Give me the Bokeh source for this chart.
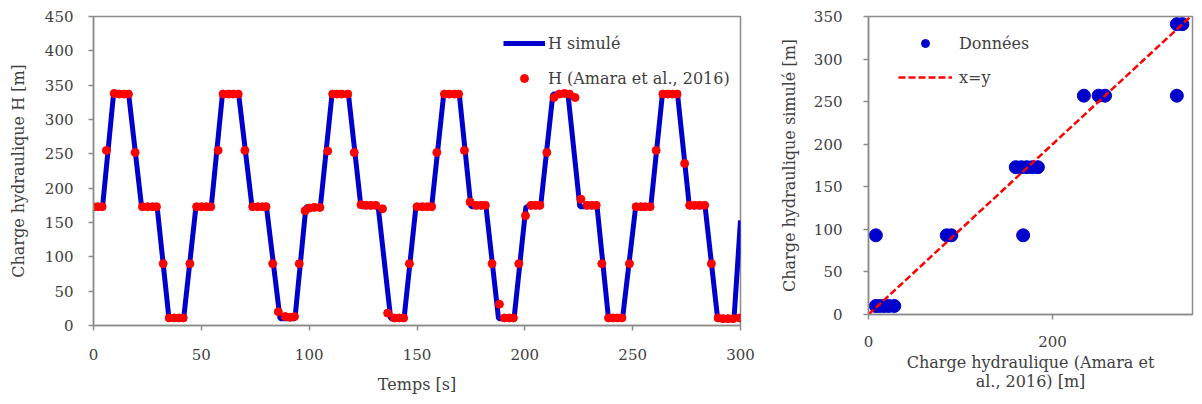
from bokeh.plotting import figure
from bokeh.layouts import row
from bokeh.models import Range1d, FixedTicker, Legend, LegendItem
from bokeh.embed import file_html
from bokeh.resources import INLINE

# ---------------- data: left chart (time series) ----------------
sim_t = [0, 4.2, 9.3, 16.3, 22.3, 29.5, 35, 41.8, 47.5, 54.6,
         59.8, 67.3, 73.5, 80.2, 86.5, 93.4, 98.5, 105.2,
         110.6, 118.2, 124, 132, 137.8, 144, 149.5, 156.8,
         162.4, 169.6, 175, 182, 187.8, 195, 200.5, 207.3,
         213, 220, 225.5, 233.5, 238.8, 245.3, 251.4, 258.4,
         263.8, 270.8, 276.3, 283.6, 289.4, 297, 300]
sim_h = [173, 173, 337, 337, 173, 173, 10, 10, 173, 173,
         337, 337, 173, 173, 10, 10, 173, 173,
         337, 337, 173, 173, 10, 10, 173, 173,
         337, 337, 173, 173, 10, 10, 173, 173,
         337, 337, 173, 173, 10, 10, 173, 173,
         337, 337, 173, 173, 10, 10, 153]

obs_t = [0, 2, 4, 6, 9.6, 11.9, 14.2, 16.2, 19.3, 22.7, 25.1, 27.4, 29.2, 32.3,
         35.1, 37.4, 39.7, 41.6, 44.7, 47.8, 50.1, 52.4, 54.4, 57.8,
         60.1, 62.6, 64.8, 67.1, 70.2, 73.8, 76.1, 78.4, 80.0, 83.1,
         85.7, 88.9, 91.2, 93.2, 95.4, 98.1, 100.1, 102.4, 105, 108.6,
         110.9, 112.9, 115.1, 117.9, 120.9, 124, 126.3, 128.6, 130.9, 134,
         136.4, 139.5, 141.8, 143.8, 146.5, 150, 152.5, 154.8, 156.8, 159.2,
         162.7, 164.9, 167.3, 169.3, 172, 174.6, 177.4, 179.7, 181.7, 184.8,
         188.2, 190.5, 192.8, 194.7, 197.2, 200.3, 202.9, 204.9, 207, 210.2,
         213.5, 216, 218.4, 220.7, 223.3, 226, 228.9, 231.1, 233.1, 235.7,
         238.8, 240.8, 242.9, 245, 248.5, 251.6, 253.9, 255.8, 258.1, 260.9,
         264, 266.3, 268.6, 270.6, 274.1, 276.4, 278.7, 281, 283.4, 286.5,
         289.6, 291.9, 294.2, 296.5, 299.6]
obs_h = [173, 173, 173, 255, 338, 337, 337, 337, 252, 173, 173, 173, 173, 90,
         11, 11, 11, 11, 90, 173, 173, 173, 173, 255,
         337, 337, 337, 337, 255, 173, 173, 173, 173, 90,
         20, 13, 12, 13, 90, 167, 171, 172, 172, 254,
         337, 337, 337, 337, 252, 176, 175, 175, 175, 170,
         18, 11, 11, 11, 90, 173, 173, 173, 173, 252,
         337, 337, 337, 337, 255, 180, 175, 175, 175, 90,
         31, 11, 11, 11, 90, 160, 175, 175, 175, 252,
         332, 337, 338, 337, 332, 184, 175, 175, 175, 90,
         11, 11, 11, 11, 90, 173, 173, 173, 173, 255,
         337, 337, 337, 337, 236, 175, 175, 175, 175, 90,
         11, 10, 10, 10, 11]

# ---------------- data: right chart (comparison) ----------------
cmp_x = [8, 85, 90, 168, 8, 12, 17, 22, 28, 160, 166, 172, 178, 184,
         234, 250, 257, 335, 335, 341]
cmp_y = [93, 93, 93, 93, 10, 10, 10, 10, 10, 173, 173, 173, 173, 173,
         257, 257, 257, 257, 341, 341]
line_xy = [0, 352]

left_ticks = [0, 50, 100, 150, 200, 250, 300]
left_yticks = [0, 50, 100, 150, 200, 250, 300, 350, 400, 450]
right_xticks = [0, 200, 400]
right_yticks = [0, 50, 100, 150, 200, 250, 300, 350]

FONT = "DejaVu Serif"
TXT = "#404040"
GRAY = "#8c8c8c"
BLUE = "#0000CC"
RED = "#FF0000"


def style(p):
    p.grid.visible = False
    p.outline_line_color = GRAY
    p.outline_line_width = 1.5
    for ax in (p.xaxis, p.yaxis):
        ax.axis_line_color = GRAY
        ax.axis_line_width = 1.5
        ax.major_tick_line_color = GRAY
        ax.major_tick_line_width = 1.5
        ax.minor_tick_line_color = None
        ax.major_tick_in = 0
        ax.major_tick_out = 5
        ax.major_label_text_font = FONT
        ax.major_label_text_font_size = "15px"
        ax.major_label_text_color = TXT
        ax.axis_label_text_font = FONT
        ax.axis_label_text_font_size = "16px"
        ax.axis_label_text_font_style = "normal"
        ax.axis_label_text_color = TXT


# ---------------- left figure ----------------
p1 = figure(width=762, height=404, output_backend="svg", toolbar_location=None,
            x_range=Range1d(0, 300), y_range=Range1d(0, 450),
            min_border_left=93, min_border_right=22, min_border_top=16,
            min_border_bottom=79)
style(p1)
p1.xaxis.ticker = FixedTicker(ticks=left_ticks)
p1.yaxis.ticker = FixedTicker(ticks=left_yticks)
p1.xaxis.major_label_standoff = 18
p1.yaxis.major_label_standoff = 15
p1.xaxis.axis_label = "Temps [s]"
p1.yaxis.axis_label = "Charge hydraulique H [m]"
p1.xaxis.axis_label_standoff = 12
p1.yaxis.axis_label_standoff = 14

lr = p1.line(sim_t, sim_h, line_color=BLUE, line_width=5)
dr = p1.scatter(obs_t, obs_h, size=8, fill_color=RED, line_color=RED)

leg1 = Legend(items=[LegendItem(label="H simulé", renderers=[lr]),
                     LegendItem(label="H (Amara et al., 2016)", renderers=[dr])],
              location=(410, 237), glyph_width=42, glyph_height=20,
              label_height=20, label_standoff=3, spacing=15, padding=0, margin=0,
              border_line_color=None, background_fill_alpha=0,
              label_text_font=FONT, label_text_font_size="16px",
              label_text_color=TXT)
p1.add_layout(leg1)

# ---------------- right figure ----------------
# Row layouts align bottom borders of both plots: this plot is 11px shorter.
p2 = figure(width=440, height=393, output_backend="svg", toolbar_location=None,
            x_range=Range1d(0, 352), y_range=Range1d(0, 350),
            min_border_left=106, min_border_right=10, min_border_top=16,
            min_border_bottom=79)
style(p2)
p2.xaxis.ticker = FixedTicker(ticks=right_xticks)
p2.yaxis.ticker = FixedTicker(ticks=right_yticks)
p2.xaxis.major_label_standoff = 16
p2.yaxis.major_label_standoff = 21
p2.xaxis.axis_label = "Charge hydraulique (Amara et\nal., 2016) [m]"
p2.xaxis.axis_label_text_line_height = 1.0
p2.yaxis.axis_label = "Charge hydraulique simulé [m]"
p2.xaxis.axis_label_standoff = 3
p2.yaxis.axis_label_standoff = 12

sr = p2.scatter(cmp_x, cmp_y, size=13, fill_color=BLUE, line_color=BLUE)
xr = p2.line(line_xy, line_xy, line_color=RED, line_width=2.5, line_dash="7 3")

leg2 = Legend(items=[LegendItem(label="Données", renderers=[sr]),
                     LegendItem(label="x=y", renderers=[xr])],
              location=(30, 227), glyph_width=54, glyph_height=20,
              label_height=20, label_standoff=7, spacing=14, padding=0, margin=0,
              border_line_color=None, background_fill_alpha=0,
              label_text_font=FONT, label_text_font_size="16px",
              label_text_color=TXT)
p2.add_layout(leg2)

layout = row(p1, p2)
open("out.html", "w").write(file_html(layout, INLINE))
